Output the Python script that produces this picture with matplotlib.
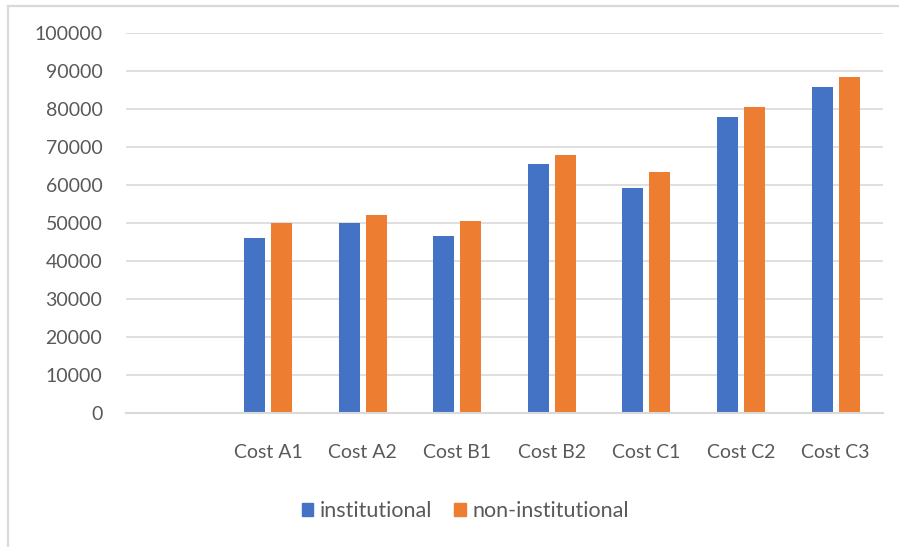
import matplotlib
matplotlib.use("Agg")
import matplotlib.pyplot as plt
from matplotlib.lines import Line2D
from matplotlib.patches import Patch
import numpy as np

categories = ["", "Cost A1", "Cost A2", "Cost B1", "Cost B2", "Cost C1", "Cost C2", "Cost C3"]
institutional = [np.nan, 46000, 50000, 46700, 65400, 59200, 78000, 85800]
non_institutional = [np.nan, 50000, 52100, 50400, 67800, 63400, 80500, 88400]
yticks = [0, 10000, 20000, 30000, 40000, 50000, 60000, 70000, 80000, 90000, 100000]

blue = "#4472C4"
orange = "#ED7D31"
grid = "#d9d9d9"
txt = "#595959"

plt.rcParams['font.family'] = ['Lato', 'DejaVu Sans']

W, H = 899, 547
fig = plt.figure(figsize=(W / 100, H / 100), dpi=100)
ax = fig.add_axes([126 / W, (H - 413) / H, (883 - 126) / W, (413 - 33) / H])

x = np.arange(len(categories))
bw = 0.222
gap = 0.063
ax.bar(x - (bw + gap) / 2, institutional, bw, color=blue, zorder=3)
ax.bar(x + (bw + gap) / 2, non_institutional, bw, color=orange, zorder=3)

ax.set_xlim(-0.5, len(categories) - 0.5)
ax.set_ylim(0, 100000)
ax.set_yticks(yticks)
ax.set_yticklabels([str(v) for v in yticks])
ax.set_xticks(x)
ax.set_xticklabels(categories)
ax.tick_params(axis='both', length=0, labelsize=14, colors=txt)
ax.tick_params(axis='y', pad=17)
ax.tick_params(axis='x', pad=22)
ax.grid(axis='y', color=grid, linewidth=1.2, zorder=0)
for s in ['top', 'right', 'left']:
    ax.spines[s].set_visible(False)
ax.spines['bottom'].set_color(grid)
ax.spines['bottom'].set_linewidth(1.5)
ax.spines['bottom'].set_zorder(4)

# chart-area frame (left and top edges)
fig.add_artist(Line2D([8 / W, 8 / W], [0, 1 - 6 / H], color=grid, linewidth=1.6, transform=fig.transFigure))
fig.add_artist(Line2D([8 / W, 1], [1 - 6 / H, 1 - 6 / H], color=grid, linewidth=1.6, transform=fig.transFigure))

handles = [Patch(color=blue, label="institutional"), Patch(color=orange, label="non-institutional")]
leg = fig.legend(handles=handles, loc='center', bbox_to_anchor=(465 / W, 1 - 511 / H),
                 ncol=2, frameon=False, fontsize=15.5, handlelength=0.55, handleheight=0.55,
                 handletextpad=0.3, columnspacing=1.0)
for t in leg.get_texts():
    t.set_color(txt)

fig.savefig("out.png", dpi=100)
